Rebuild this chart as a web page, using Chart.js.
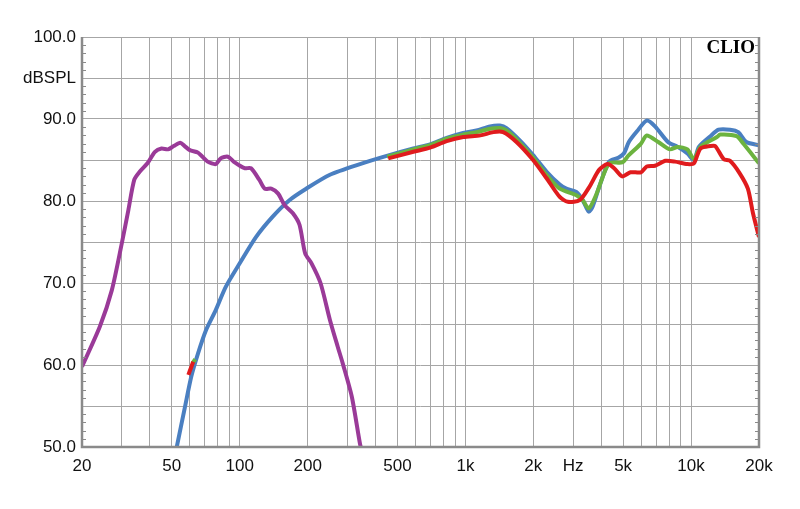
<!DOCTYPE html>
<html>
<head>
<meta charset="utf-8">
<script src="https://cdn.jsdelivr.net/npm/chart.js@4"></script>
<style>
html,body{margin:0;padding:0;background:#fff;}
#wrap{width:800px;height:509px;position:relative;}
</style>
</head>
<body>
<div id="wrap"><canvas id="c" width="800" height="509"></canvas></div>
<script>
// ---- Data ----
const xTicks = [20,30,40,50,60,70,80,90,100,200,300,400,500,600,700,800,900,1000,2000,3000,4000,5000,6000,7000,8000,9000,10000,20000];
const xTickLabels = {20:'20',50:'50',100:'100',200:'200',500:'500',1000:'1k',2000:'2k',3000:'Hz',5000:'5k',10000:'10k',20000:'20k'};
const yTickLabels = {100:'100.0',95:'dBSPL',90:'90.0',80:'80.0',70:'70.0',60:'60.0',50:'50.0'};

const purpleFreq = [20,24,27.1,30,32.1,34.1,36.1,39,42.1,45,48.1,51,54.5,57,60.1,65.3,72.1,78.3,82.3,88.6,95,105,112,122,129,138,148,158,172,184,195,208,228,251,272,286,314,341,347];
const purpleVal  = [59.8,64.7,69.1,74.8,78.9,82.6,83.6,84.6,86.0,86.4,86.3,86.7,87.1,86.7,86.2,85.9,84.8,84.5,85.2,85.4,84.7,84.0,84.0,82.6,81.5,81.5,80.9,79.5,78.5,77.1,73.6,72.4,70.0,65.5,62.2,60.2,56.1,50.4,49.6];

const blueFreq = [52.6,57.2,61,65.3,71,78.3,86.6,100,118,140,166,197,251,341,448,588,697,826,978,1120,1286,1422,1520,1742,1995,2286,2618,2800,3100,3310,3520,3660,3915,4330,4780,5040,5300,5760,6360,6920,7900,8720,9630,10300,10830,12180,13240,14880,16180,17580,20000];
const blueVal  = [50,54.9,58.6,61.4,64.3,66.7,69.5,72.4,75.6,78.1,80.1,81.5,83.2,84.5,85.5,86.4,86.9,87.7,88.3,88.6,89.1,89.2,88.9,87.4,85.6,83.6,82.0,81.5,81.1,80.1,78.7,79.3,81.7,84.8,85.3,85.8,87.2,88.5,89.8,89.1,87.2,86.6,85.8,85.0,86.6,87.9,88.7,88.7,88.4,87.2,86.8];

const greenFreq = [62,63.5,300,450,588,697,826,978,1120,1286,1422,1520,1742,1995,2286,2618,3100,3310,3520,3790,4330,4950,5300,6000,6360,7160,8050,8720,9630,10300,11000,13020,13460,15920,17040,20000];
const greenVal  = [60.3,60.7,null,85.4,86.3,86.8,87.6,88.1,88.4,88.8,88.9,88.6,87.1,85.3,83.2,81.5,80.7,80.1,79.1,80.7,84.6,84.7,85.6,87.0,88.0,87.2,86.3,86.6,86.3,85.1,86.6,87.8,88.1,87.9,87.0,84.6];

const redFreq = [59.2,60.7,62.2,300,455,588,697,826,978,1165,1330,1470,1684,1995,2286,2618,2842,3209,3540,3915,4260,4560,4950,5390,6000,6360,6920,7700,8500,9630,10300,11000,12180,12800,13950,14880,16400,17850,18810,20000];
const redVal  = [58.8,59.6,60.4,null,85.2,86.0,86.5,87.3,87.8,88.0,88.4,88.4,87.2,85.0,82.8,80.5,79.9,80.1,81.7,83.8,84.5,84.0,83.0,83.5,83.5,84.2,84.3,84.9,84.8,84.5,84.6,86.4,86.7,86.7,85.1,84.9,83.4,81.5,78.5,75.6];

function pts(f, v){ return f.map((x,i)=>({x:x, y:v[i]})); }

const frame = {
  id:'frame',
  afterDatasetsDraw(chart){
    const {ctx, chartArea:a, scales} = chart;
    ctx.save();
    // minor ticks on left and right axes
    ctx.strokeStyle = '#8a8a8a';
    ctx.lineWidth = 1;
    for(let v=51; v<100; v++){
      if(v%5===0) continue;
      const y = Math.round(scales.y.getPixelForValue(v))+0.5;
      ctx.beginPath();
      ctx.moveTo(a.left, y); ctx.lineTo(a.left+4, y);
      ctx.moveTo(a.right-4, y); ctx.lineTo(a.right, y);
      ctx.stroke();
    }
    // frame
    ctx.strokeStyle = '#8a8a8a';
    ctx.lineWidth = 2.5;
    ctx.beginPath();
    ctx.moveTo(a.left, a.top); ctx.lineTo(a.left, a.bottom);
    ctx.lineTo(a.right, a.bottom); ctx.lineTo(a.right, a.top);
    ctx.stroke();
    // CLIO mark
    ctx.fillStyle = '#000';
    ctx.font = 'bold 19px "Liberation Serif", serif';
    ctx.textAlign = 'right';
    ctx.textBaseline = 'alphabetic';
    ctx.fillText('CLIO', a.right-4, a.top+16);
    ctx.restore();
  }
};

const lw = 4;
new Chart(document.getElementById('c'), {
  type:'line',
  data:{
    datasets:[
      {data:pts(purpleFreq,purpleVal), borderColor:'#9a3a98', borderWidth:lw, pointRadius:0, tension:0.25, spanGaps:false},
      {data:pts(redFreq,redVal), borderColor:'#e01b1d', borderWidth:lw, pointRadius:0, tension:0.25, spanGaps:false},
      {data:pts(greenFreq,greenVal), borderColor:'#6cb33f', borderWidth:lw, pointRadius:0, tension:0.25, spanGaps:false},
      {data:pts(blueFreq,blueVal), borderColor:'#4a7fc1', borderWidth:lw, pointRadius:0, tension:0.25, spanGaps:false}
    ]
  },
  options:{
    responsive:false,
    animation:false,
    devicePixelRatio:1,
    layout:{padding:{left:0,right:41,top:37,bottom:0}},
    plugins:{legend:{display:false}, tooltip:{enabled:false}},
    scales:{
      x:{
        type:'logarithmic', min:20, max:20000,
        afterBuildTicks(s){ s.ticks = xTicks.map(v=>({value:v})); },
        afterFit(s){ s.height = 62; },
        ticks:{autoSkip:false, maxRotation:0, padding:9, color:'#111',
          font:{family:'"Liberation Sans", Arial, sans-serif', size:17},
          callback(v){ return xTickLabels[v] !== undefined ? xTickLabels[v] : ''; }},
        grid:{color:'#a6a6a6', lineWidth:1, drawTicks:false},
        border:{display:false}
      },
      y:{
        min:50, max:100,
        afterBuildTicks(s){ const t=[]; for(let v=50; v<=100; v+=5) t.push({value:v}); s.ticks=t; },
        afterFit(s){ s.width = 82; },
        ticks:{autoSkip:false, padding:6, color:'#111',
          font:{family:'"Liberation Sans", Arial, sans-serif', size:17},
          callback(v){ return yTickLabels[v] !== undefined ? yTickLabels[v] : ''; }},
        grid:{color:'#a6a6a6', lineWidth:1, drawTicks:false},
        border:{display:false}
      }
    }
  },
  plugins:[frame]
});
</script>
</body>
</html>
